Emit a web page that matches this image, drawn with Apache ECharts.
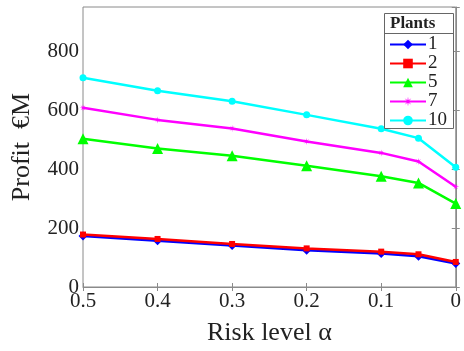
<!DOCTYPE html>
<html><head><meta charset="utf-8">
<script src="https://cdn.jsdelivr.net/npm/echarts@6/dist/echarts.min.js"></script>
<style>html,body{margin:0;padding:0;background:#fff}#c{width:464px;height:351px}</style>
</head><body><div id="c"></div>
<script>
const alphas = [0.5, 0.4, 0.3, 0.2, 0.1, 0.05, 0];
const plants = ['1', '2', '5', '7', '10'];
const profit1 = [173, 157, 141, 125, 114, 104, 80];
const profit2 = [178, 163, 146, 131, 120, 111, 85];
const profit5 = [503, 470, 445, 411, 376, 353, 283];
const profit7 = [608, 567, 538, 494, 455, 426, 340];
const profit10 = [710, 666, 630, 584, 537, 505, 406];
const yTicks = [0, 200, 400, 600, 800];
const xTicks = [0, 0.1, 0.2, 0.3, 0.4, 0.5];

const colors = ['#0000ff', '#ff0000', '#00ff00', '#ff00ff', '#00ffff'];
const symbols = ['diamond', 'rect', 'triangle',
  'path://M50,0 L56,38 L85,15 L62,44 L100,50 L62,56 L85,85 L56,62 L50,100 L44,62 L15,85 L38,56 L0,50 L38,44 L15,15 L44,38 Z',
  'circle'];
const symSizes = [9, 6, 11, 7, 7];
const allData = [profit1, profit2, profit5, profit7, profit10];
const font = '"Liberation Serif", "DejaVu Serif", serif';

const series = plants.map((p, i) => ({
  name: p, type: 'line',
  data: alphas.map((a, j) => [a, allData[i][j]]),
  symbol: symbols[i], symbolSize: symSizes[i],
  lineStyle: { color: colors[i], width: 2.5 },
  itemStyle: { color: colors[i] },
  z: i === 1 ? 3 : 2
}));

const axisCol = '#8a8a8a';
const chart = echarts.init(document.getElementById('c'));
chart.setOption({
  animation: false,
  grid: { left: 83, right: 6, top: 7, bottom: 58, show: true, borderColor: axisCol, borderWidth: 1 },
  xAxis: [{
    type: 'value', inverse: true, min: 0, max: 0.5, interval: 0.1,
    axisLine: { show: true, lineStyle: { color: axisCol } },
    axisTick: { show: true, inside: true, length: 4, lineStyle: { color: axisCol } },
    splitLine: { show: false },
    axisLabel: { color: '#222', fontFamily: font, fontSize: 21, margin: 4,
      formatter: v => (xTicks.some(t => Math.abs(t - v) < 1e-9) ? String(+v.toFixed(1)) : '') },
    name: 'Risk level α', nameLocation: 'middle', nameGap: 33,
    nameTextStyle: { color: '#222', fontFamily: font, fontSize: 26 }
  }, {
    type: 'value', inverse: true, min: 0, max: 0.5, interval: 0.1, position: 'top',
    axisLine: { show: false }, axisLabel: { show: false }, splitLine: { show: false },
    axisTick: { show: true, inside: true, length: 4, lineStyle: { color: axisCol } }
  }],
  yAxis: [{
    type: 'value', min: 0, max: 950, interval: 200,
    axisLine: { show: true, lineStyle: { color: axisCol } },
    axisTick: { show: true, inside: true, length: 4, lineStyle: { color: axisCol } },
    splitLine: { show: false },
    axisLabel: { color: '#222', fontFamily: font, fontSize: 21, margin: 4,
      formatter: v => (yTicks.includes(v) ? String(v) : '') },
    name: 'Profit  €M', nameLocation: 'middle', nameGap: 48,
    nameTextStyle: { color: '#222', fontFamily: font, fontSize: 26 }
  }, {
    type: 'value', min: 0, max: 950, interval: 200, position: 'right',
    axisLine: { show: false }, axisLabel: { show: false }, splitLine: { show: false },
    axisTick: { show: true, inside: true, length: 4, lineStyle: { color: axisCol } }
  }],
  legend: {
    data: plants, orient: 'vertical', left: 389, top: 35,
    itemWidth: 36, itemHeight: 12, itemGap: 0, padding: 0,
    textStyle: { color: '#222', fontFamily: font, fontSize: 19, lineHeight: 18, padding: [0, 0, 0, -3] },
    z: 10
  },
  graphic: [
    { type: 'rect', left: 384, top: 13, shape: { width: 69, height: 115 },
      style: { fill: '#fff', stroke: '#666', lineWidth: 1 }, z: 5 },
    { type: 'line', shape: { x1: 384, y1: 33.5, x2: 453, y2: 33.5 },
      style: { stroke: '#666', lineWidth: 1 }, z: 6 },
    { type: 'text', left: 390, top: 15, z: 6,
      style: { text: 'Plants', font: 'bold 17px ' + font, fill: '#222' } }
  ],
  series: series
});
</script></body></html>
